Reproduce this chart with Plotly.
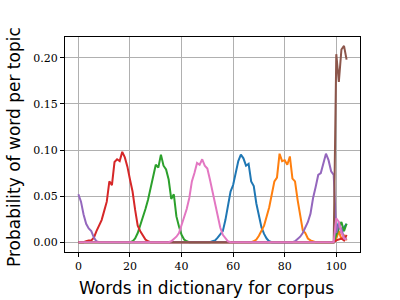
import plotly.graph_objects as go

n_words = 105
words = list(range(n_words))

# Each topic: (start index, values) ; zeros elsewhere
blue_start = 52
blue_vals = [0.001, 0.002, 0.005, 0.008, 0.012, 0.024, 0.038, 0.055, 0.062, 0.076,
             0.088, 0.095, 0.091, 0.083, 0.085, 0.066, 0.061, 0.042, 0.028, 0.016,
             0.009, 0.004, 0.001]
blue_tail = [0.012, 0.022, 0.010, 0.016, 0.020]

orange_start = 68
orange_vals = [0.001, 0.003, 0.007, 0.012, 0.018, 0.028, 0.038, 0.052, 0.066, 0.070,
               0.096, 0.088, 0.089, 0.084, 0.093, 0.069, 0.066, 0.046, 0.028, 0.013,
               0.010, 0.004, 0.002, 0.001]
orange_tail = [0.004, 0.012, 0.003, 0.008, 0.002]

green_start = 21
green_vals = [0.001, 0.004, 0.010, 0.018, 0.028, 0.036, 0.046, 0.058, 0.070, 0.084,
              0.081, 0.095, 0.083, 0.079, 0.068, 0.047, 0.052, 0.028, 0.017, 0.008,
              0.003, 0.001]
green_tail = [0.008, 0.015, 0.022, 0.012, 0.020]

red_start = 3
red_vals = [0.001, 0.002, 0.002, 0.005, 0.012, 0.018, 0.024, 0.034, 0.044, 0.066,
            0.062, 0.087, 0.090, 0.088, 0.098, 0.092, 0.082, 0.068, 0.055, 0.035,
            0.018, 0.012, 0.007, 0.003, 0.001]
red_tail = [0.002, 0.003, 0.004, 0.002, 0.008]

purple_head = [0.052, 0.044, 0.030, 0.020, 0.015, 0.012, 0.005, 0.001]
purple_start = 84
purple_vals = [0.001, 0.003, 0.006, 0.010, 0.016, 0.022, 0.031, 0.048, 0.060, 0.073,
               0.075, 0.086, 0.096, 0.089, 0.077, 0.073]
purple_tail = [0.010, 0.020, 0.014, 0.005, 0.003]

brown_tail = [0.204, 0.174, 0.209, 0.213, 0.198]

pink_start = 36
pink_vals = [0.001, 0.003, 0.006, 0.010, 0.018, 0.027, 0.036, 0.048, 0.066, 0.075,
             0.086, 0.084, 0.090, 0.083, 0.080, 0.068, 0.055, 0.040, 0.027, 0.016,
             0.008, 0.004, 0.001]
pink_tail = [0.026, 0.022, 0.010, 0.004, 0.003]

x_ticks = [0, 20, 40, 60, 80, 100]
y_ticks = [0.00, 0.05, 0.10, 0.15, 0.20]

x_label = "Words in dictionary for corpus"
y_label = "Probability of word per topic"


def build(start=None, vals=(), tail=(), head=()):
    arr = [0.0] * n_words
    for i, v in enumerate(head):
        arr[i] = v
    if start is not None:
        for i, v in enumerate(vals):
            arr[start + i] = v
    for i, v in enumerate(tail):
        arr[100 + i] = v
    return arr


topics = [
    (build(blue_start, blue_vals, blue_tail), "#1f77b4"),
    (build(orange_start, orange_vals, orange_tail), "#ff7f0e"),
    (build(green_start, green_vals, green_tail), "#2ca02c"),
    (build(red_start, red_vals, red_tail), "#d62728"),
    (build(purple_start, purple_vals, purple_tail, purple_head), "#9467bd"),
    (build(None, (), brown_tail), "#8c564b"),
    (build(pink_start, pink_vals, pink_tail), "#e377c2"),
]

fig = go.Figure()
for vals, col in topics:
    fig.add_trace(go.Scatter(x=words, y=vals, mode="lines",
                             line=dict(color=col, width=2), showlegend=False))

axis_common = dict(showline=True, linecolor="black", linewidth=1, mirror=True,
                   ticks="outside", ticklen=4, tickcolor="black", automargin=False,
                   showgrid=True, gridcolor="#b0b0b0", gridwidth=1, zeroline=False,
                   tickfont=dict(family="DejaVu Serif", size=11, color="black"))

fig.update_layout(
    width=400, height=300,
    margin=dict(l=65, r=40, t=37, b=48),
    paper_bgcolor="white", plot_bgcolor="white",
    xaxis=dict(range=[-5.2, 109.2], tickvals=x_ticks, **axis_common),
    yaxis=dict(range=[-0.0106, 0.2226], tickvals=y_ticks, tickformat=".2f",
               **axis_common),
    annotations=[
        dict(text=x_label, xref="paper", yref="paper", x=0.481, y=-0.167,
             xanchor="center", yanchor="middle", showarrow=False,
             font=dict(family="DejaVu Sans", size=17, color="black")),
        dict(text=y_label, xref="paper", yref="paper", x=-0.173, y=0.488,
             xanchor="center", yanchor="middle", showarrow=False, textangle=-90,
             font=dict(family="DejaVu Sans", size=17, color="black")),
    ],
)

fig.write_html("out.html", config={"displayModeBar": False},
               post_script="document.body.style.margin='0';document.body.style.overflow='hidden';")
